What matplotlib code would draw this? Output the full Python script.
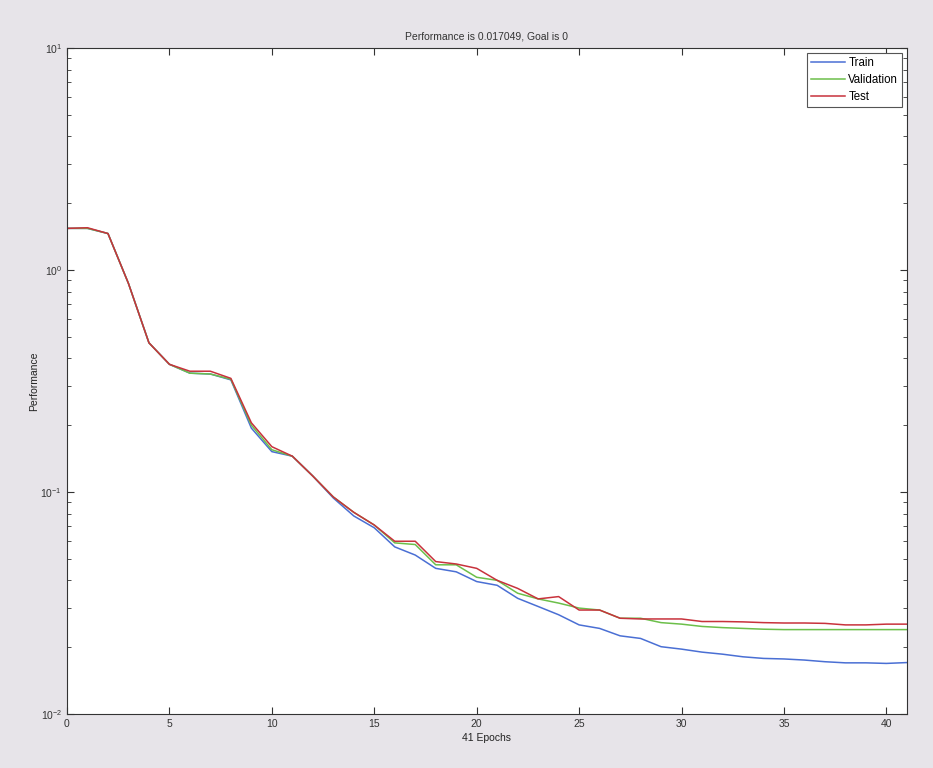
import matplotlib
matplotlib.use("Agg")
import matplotlib.pyplot as plt
from matplotlib.ticker import LogLocator, NullFormatter, FixedLocator

plt.rcParams['font.family'] = ['Liberation Sans', 'DejaVu Sans']
plt.rcParams['axes.unicode_minus'] = False

# datos
epochs = list(range(42))
train = [1.54, 1.54, 1.46, 0.87, 0.47, 0.376, 0.343, 0.34, 0.32, 0.194,
         0.152, 0.145, 0.118, 0.094, 0.078, 0.069, 0.0566, 0.052, 0.0453, 0.0437,
         0.0395, 0.038, 0.0332, 0.0305, 0.028, 0.0252, 0.0243, 0.0225, 0.0219, 0.0201,
         0.0196, 0.019, 0.0186, 0.0181, 0.0178, 0.0177, 0.0175, 0.0172, 0.0170, 0.0170,
         0.0169, 0.01705]
validation = [1.54, 1.54, 1.46, 0.87, 0.47, 0.376, 0.343, 0.34, 0.322, 0.20,
              0.155, 0.145, 0.118, 0.095, 0.081, 0.071, 0.059, 0.058, 0.047, 0.047,
              0.0413, 0.040, 0.035, 0.033, 0.0316, 0.030, 0.0294, 0.027, 0.027, 0.0258,
              0.0254, 0.0248, 0.0245, 0.0243, 0.0241, 0.024, 0.024, 0.024, 0.024, 0.024,
              0.024, 0.024]
test = [1.54, 1.55, 1.46, 0.87, 0.47, 0.376, 0.35, 0.35, 0.325, 0.205,
        0.16, 0.145, 0.118, 0.095, 0.081, 0.071, 0.060, 0.060, 0.0486, 0.0474,
        0.0453, 0.040, 0.0368, 0.033, 0.0338, 0.0294, 0.0294, 0.027, 0.0268, 0.0268,
        0.0268, 0.0261, 0.0261, 0.026, 0.0258, 0.0257, 0.0257, 0.0256, 0.0252, 0.0252,
        0.0254, 0.0254]
x_ticks = [0, 5, 10, 15, 20, 25, 30, 35, 40]

fig = plt.figure(figsize=(9.33, 7.68), dpi=100, facecolor="#e7e4e9")
ax = fig.add_axes([0.0718, 0.0703, 0.9002, 0.8672])

ax.plot(epochs, train, color="#4a6fd4", lw=1.1, label="Train")
ax.plot(epochs, validation, color="#6cbf4a", lw=1.1, label="Validation")
ax.plot(epochs, test, color="#c8323c", lw=1.1, label="Test")

ax.set_yscale("log")
ax.set_xlim(0, 41)
ax.set_ylim(1e-2, 1e1)
ax.xaxis.set_major_locator(FixedLocator(x_ticks))
ax.yaxis.set_major_locator(LogLocator(base=10, numticks=10))
ax.yaxis.set_minor_locator(LogLocator(base=10, subs=range(2, 10), numticks=10))
ax.yaxis.set_minor_formatter(NullFormatter())
ax.tick_params(which="both", direction="in", top=True, right=True,
               labelsize=7.5, colors="#333333")
ax.tick_params(which="major", length=5)
ax.tick_params(which="minor", length=3)
for s in ax.spines.values():
    s.set_color("#333333")

ax.set_title("Performance is 0.017049, Goal is 0", fontsize=7.5, pad=6, color="#333333")
ax.set_xlabel("41 Epochs", fontsize=7.5, color="#222222", labelpad=3)
ax.set_ylabel("Performance", fontsize=7.5, color="#222222", labelpad=1)

leg = ax.legend(loc="upper right", fontsize=8.3, fancybox=False, framealpha=1,
                borderaxespad=0.4, handlelength=3.0, handletextpad=0.25,
                borderpad=0.35, labelspacing=0.45)
leg.get_frame().set_edgecolor("#555555")
leg.get_frame().set_linewidth(0.8)

plt.savefig("out.png", dpi=100, facecolor=fig.get_facecolor())
